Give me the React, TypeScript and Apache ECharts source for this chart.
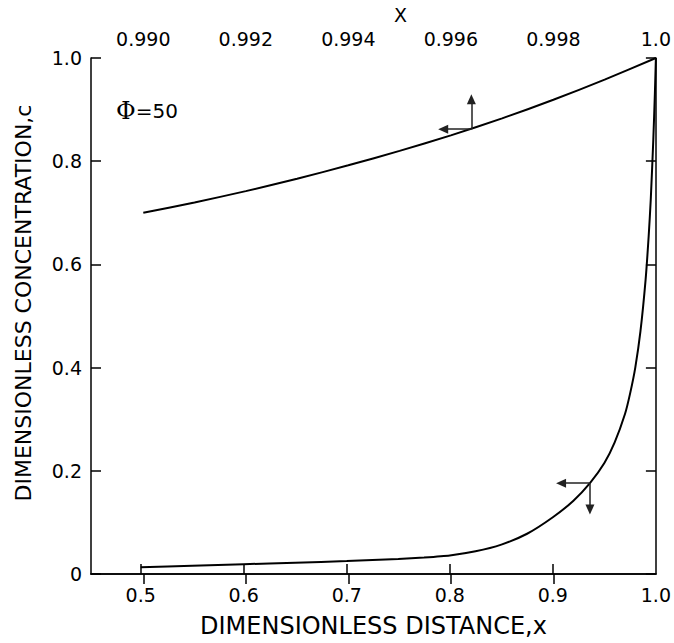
import React, { useEffect, useRef } from "react";
import * as echarts from "echarts";

// Upper curve (read against the top axis, X near 1)
const topX = [0.990, 0.991, 0.992, 0.993, 0.994, 0.995, 0.996, 0.997, 0.998, 0.999, 1.0];
const topC = [0.700, 0.720, 0.742, 0.766, 0.792, 0.820, 0.850, 0.883, 0.919, 0.958, 1.0];

// Lower curve (read against the bottom axis, x from 0.5 to 1)
const botX = [0.5, 0.55, 0.6, 0.65, 0.7, 0.75, 0.775, 0.8, 0.825, 0.85, 0.875, 0.9, 0.92, 0.936, 0.95, 0.96, 0.97, 0.975, 0.98, 0.985, 0.99, 0.993, 0.995, 0.9975, 0.999, 1.0];
const botC = [0.013, 0.016, 0.019, 0.022, 0.025, 0.029, 0.032, 0.036, 0.044, 0.057, 0.078, 0.110, 0.142, 0.176, 0.215, 0.255, 0.310, 0.350, 0.400, 0.470, 0.570, 0.655, 0.725, 0.842, 0.930, 1.0];

// Tick values
const bottomTicks = [0.5, 0.6, 0.7, 0.8, 0.9];
const bottomLabels = [0.5, 0.6, 0.7, 0.8, 0.9, 1.0];
const topTicks = [0.990, 0.992, 0.994, 0.996, 0.998];
const topLabels = [0.990, 0.992, 0.994, 0.996, 0.998, 1.0];

// Arrow annotations (data coordinates): [junctionX, junctionC, leftX, upOrDownC]
const upperArrow = [0.9964, 0.862, 0.99585, 0.92];
const lowerArrow = [0.936, 0.176, 0.908, 0.125];

const FONT = "DejaVu Sans";

export default function App() {
  const ref = useRef<HTMLDivElement>(null);
  useEffect(() => {
    document.body.style.margin = "0";
    const chart = echarts.init(ref.current!, null, { renderer: "svg" });
    const axisLineStyle = { color: "#000", width: 1.5 };
    const label = { color: "#000", fontFamily: FONT, fontSize: 19 };
    const arrowLine = (x1: number, y1: number, x2: number, y2: number) => [
      { coord: [x1, y1], symbol: "none" },
      { coord: [x2, y2], symbol: "triangle", symbolSize: [9, 10] },
    ];
    const option: any = {
      animation: false,
      backgroundColor: "#fff",
      grid: { left: 91, right: 18, top: 58, bottom: 69, containLabel: false },
      xAxis: [
        {
          type: "value",
          position: "bottom",
          min: 0.4518,
          max: 1.0,
          name: "DIMENSIONLESS DISTANCE,x",
          nameLocation: "middle",
          nameGap: 40,
          nameTextStyle: { color: "#000", fontFamily: FONT, fontSize: 24 },
          axisLine: { show: true, lineStyle: axisLineStyle },
          axisTick: { show: true, inside: true, length: 10, customValues: bottomTicks, lineStyle: axisLineStyle },
          axisLabel: {
            ...label,
            margin: 11,
            customValues: bottomLabels,
            formatter: (v: number) => v.toFixed(1),
          },
          splitLine: { show: false },
        },
        {
          type: "value",
          position: "top",
          min: 0.98898,
          max: 1.0,
          name: "X",
          nameLocation: "middle",
          nameGap: 33,
          nameTextStyle: { color: "#000", fontFamily: FONT, fontSize: 19, padding: [0, 0, 0, 54] },
          axisLine: { show: true, lineStyle: axisLineStyle },
          axisTick: { show: true, inside: true, length: 10, customValues: topTicks, lineStyle: axisLineStyle },
          axisLabel: {
            ...label,
            margin: 10,
            customValues: topLabels,
            formatter: (v: number) => (v > 0.9999 ? "1.0" : v.toFixed(3)),
          },
          splitLine: { show: false },
        },
      ],
      yAxis: [
        {
          type: "value",
          position: "left",
          min: 0,
          max: 1,
          interval: 0.2,
          name: "DIMENSIONLESS CONCENTRATION,c",
          nameLocation: "middle",
          nameGap: 57,
          nameTextStyle: { color: "#000", fontFamily: FONT, fontSize: 22, padding: [0, 0, 0, 26] },
          axisLine: { show: true, lineStyle: axisLineStyle },
          axisTick: { show: true, inside: true, length: 10, lineStyle: axisLineStyle },
          axisLabel: {
            ...label,
            margin: 9,
            formatter: (v: number) => (v === 0 ? "0" : v.toFixed(1)),
          },
          splitLine: { show: false },
        },
        {
          type: "value",
          position: "right",
          min: 0,
          max: 1,
          interval: 0.2,
          axisLine: { show: true, lineStyle: axisLineStyle },
          axisTick: { show: true, inside: true, length: 10, lineStyle: axisLineStyle },
          axisLabel: { show: false },
          splitLine: { show: false },
        },
      ],
      series: [
        {
          type: "line",
          xAxisIndex: 1,
          yAxisIndex: 0,
          data: topX.map((x, i) => [x, topC[i]]),
          showSymbol: false,
          smooth: 0.2,
          lineStyle: { color: "#000", width: 2 },
          silent: true,
          markLine: {
            silent: true,
            animation: false,
            label: { show: false },
            lineStyle: { color: "#222", width: 1.5, type: "solid" },
            itemStyle: { color: "#666" },
            data: [
              arrowLine(upperArrow[0], upperArrow[1], upperArrow[0], upperArrow[3]),
              arrowLine(upperArrow[0], upperArrow[1], upperArrow[2], upperArrow[1]),
            ],
          },
        },
        {
          type: "line",
          xAxisIndex: 0,
          yAxisIndex: 0,
          data: botX.map((x, i) => [x, botC[i]]),
          showSymbol: false,
          smooth: 0.2,
          lineStyle: { color: "#000", width: 2 },
          silent: true,
          markLine: {
            silent: true,
            animation: false,
            label: { show: false },
            lineStyle: { color: "#222", width: 1.5, type: "solid" },
            itemStyle: { color: "#666" },
            data: [
              arrowLine(lowerArrow[0], lowerArrow[1], lowerArrow[0], lowerArrow[3]),
              arrowLine(lowerArrow[0], lowerArrow[1], lowerArrow[2], lowerArrow[1]),
            ],
          },
        },
      ],
      graphic: [
        {
          type: "text",
          left: 116,
          top: 99,
          style: {
            text: "{p|Φ}{e|=50}",
            rich: {
              p: { fontFamily: "DejaVu Serif", fontSize: 24, fill: "#000" },
              e: { fontFamily: FONT, fontSize: 20, fill: "#000" },
            },
          },
        },
      ],
    };
    chart.setOption(option);
    return () => chart.dispose();
  }, []);
  return <div ref={ref} style={{ width: 674, height: 643 }} />;
}
